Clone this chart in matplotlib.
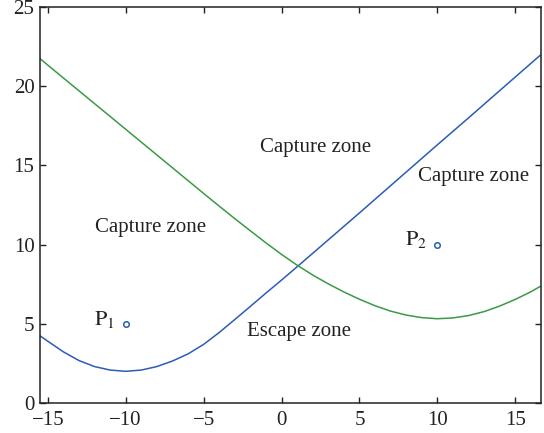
import matplotlib.pyplot as plt

plt.rcParams['font.family'] = ['Liberation Serif', 'DejaVu Serif']
plt.rcParams['mathtext.fontset'] = 'stix'

# boundary curves of the two zones
x_blue = [-15.5, -15, -14, -13, -12, -11, -10, -9, -8, -7, -6, -5, -4, -3, -2, -1,
          0, 1, 2, 3, 4, 5, 6, 7, 8, 9, 10, 11, 12, 13, 14, 15, 16, 16.6]
y_blue = [4.24, 3.9, 3.23, 2.68, 2.3, 2.08, 2.0, 2.08, 2.3, 2.65, 3.1, 3.7, 4.45,
          5.27, 6.1, 6.94, 7.76, 8.6, 9.45, 10.3, 11.15, 12.0, 12.86, 13.72, 14.58,
          15.44, 16.3, 17.15, 18.0, 18.86, 19.72, 20.58, 21.44, 21.95]

x_green = [-15.5, -15, -14, -13, -12, -11, -10, -9, -8, -7, -6, -5, -4, -3, -2, -1,
           0, 1, 2, 3, 4, 5, 6, 7, 8, 9, 10, 11, 12, 13, 14, 15, 16, 16.6]
y_green = [21.74, 21.33, 20.52, 19.71, 18.9, 18.09, 17.28, 16.47, 15.66, 14.85,
           14.04, 13.23, 12.43, 11.64, 10.87, 10.11, 9.38, 8.7, 8.08, 7.52, 7.01,
           6.55, 6.14, 5.8, 5.55, 5.39, 5.32, 5.37, 5.52, 5.77, 6.12, 6.54, 7.02, 7.36]

# sample points
pts_x = [-10, 10]
pts_y = [5, 10]
pts_labels = [r'$\mathrm{P}_1$', r'$\mathrm{P}_2$']

zone_labels = ['Capture zone', 'Capture zone', 'Capture zone', 'Escape zone']
zone_x = [2.2, -8.4, 12.3, 1.15]
zone_y = [16.1, 11.1, 14.3, 4.5]

fig = plt.figure(figsize=(5.44, 4.33), dpi=100)
ax = fig.add_axes([40 / 544, 30 / 433, 501 / 544, 396 / 433])

ax.plot(x_blue, y_blue, color='#2c5cb4', linewidth=1.1)
ax.plot(x_green, y_green, color='#3a9a45', linewidth=1.1)
ax.plot(pts_x, pts_y, 'o', markersize=4, markerfacecolor='none',
        markeredgecolor='#2c5cb4', markeredgewidth=1.1)

for px, py, lab in zip(pts_x, pts_y, pts_labels):
    ax.text(px - 2.05, py + 0.3, lab, fontsize=16, ha='left', va='center', color='#222222')

for lab, zx, zy in zip(zone_labels, zone_x, zone_y):
    ax.text(zx, zy, lab, fontsize=15, ha='center', va='center', color='#222222')

ax.set_xlim(-15.5, 16.65)
ax.set_ylim(0, 25)
ax.set_xticks([-15, -10, -5, 0, 5, 10, 15])
ax.set_yticks([0, 5, 10, 15, 20, 25])
ax.set_xticklabels(['\u221215', '\u221210', '\u22125', '0', '5', '10', '15'])
ax.tick_params(direction='in', top=True, right=True, length=4, width=1,
               labelsize=15, colors='#222222')
ax.tick_params(axis='x', pad=6)
ax.tick_params(axis='y', pad=4)
for s in ax.spines.values():
    s.set_linewidth(1.1)
    s.set_color('#222222')

plt.savefig('out.png', dpi=100)
plt.close()
